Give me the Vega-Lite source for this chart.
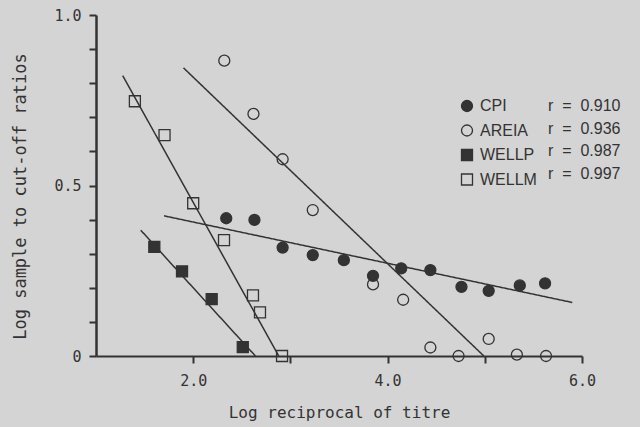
{
  "$schema": "https://vega.github.io/schema/vega-lite/v6.json",
  "width": 486,
  "height": 341,
  "autosize": {"type": "none"},
  "padding": {"left": 96, "top": 15, "right": 58, "bottom": 71},
  "background": "#d4d4d4",
  "config": {
    "view": {"stroke": null},
    "axis": {
      "grid": false,
      "domainColor": "#333333",
      "tickColor": "#333333",
      "labelColor": "#333333",
      "titleColor": "#333333",
      "labelFont": "DejaVu Sans Mono",
      "titleFont": "DejaVu Sans Mono",
      "labelFontSize": 15,
      "titleFontSize": 16,
      "titleFontWeight": "normal"
    },
    "legend": {
      "title": null,
      "orient": "none",
      "labelFont": "Liberation Sans",
      "labelFontSize": 16,
      "labelColor": "#333333",
      "rowPadding": 6.5,
      "padding": 0
    }
  },
  "datasets": {
    "points": [
      {"series": "CPI", "x": 2.34, "y": 0.404},
      {"series": "CPI", "x": 2.63, "y": 0.399},
      {"series": "CPI", "x": 2.92, "y": 0.318},
      {"series": "CPI", "x": 3.23, "y": 0.296},
      {"series": "CPI", "x": 3.55, "y": 0.281},
      {"series": "CPI", "x": 3.85, "y": 0.235},
      {"series": "CPI", "x": 4.14, "y": 0.257},
      {"series": "CPI", "x": 4.44, "y": 0.252},
      {"series": "CPI", "x": 4.76, "y": 0.203},
      {"series": "CPI", "x": 5.04, "y": 0.191},
      {"series": "CPI", "x": 5.36, "y": 0.207},
      {"series": "CPI", "x": 5.62, "y": 0.213},
      {"series": "AREIA", "x": 2.32, "y": 0.866},
      {"series": "AREIA", "x": 2.62, "y": 0.71},
      {"series": "AREIA", "x": 2.92, "y": 0.577},
      {"series": "AREIA", "x": 3.23, "y": 0.428},
      {"series": "AREIA", "x": 3.85, "y": 0.21},
      {"series": "AREIA", "x": 4.16, "y": 0.165},
      {"series": "AREIA", "x": 4.44, "y": 0.025},
      {"series": "AREIA", "x": 4.73, "y": 0},
      {"series": "AREIA", "x": 5.04, "y": 0.05},
      {"series": "AREIA", "x": 5.33, "y": 0.004},
      {"series": "AREIA", "x": 5.63, "y": 0},
      {"series": "WELLP", "x": 1.6, "y": 0.32},
      {"series": "WELLP", "x": 1.885, "y": 0.248},
      {"series": "WELLP", "x": 2.19, "y": 0.167},
      {"series": "WELLP", "x": 2.51, "y": 0.026},
      {"series": "WELLM", "x": 1.4, "y": 0.747},
      {"series": "WELLM", "x": 1.705, "y": 0.648},
      {"series": "WELLM", "x": 2.0, "y": 0.448},
      {"series": "WELLM", "x": 2.317, "y": 0.34},
      {"series": "WELLM", "x": 2.615, "y": 0.178},
      {"series": "WELLM", "x": 2.687, "y": 0.128},
      {"series": "WELLM", "x": 2.914, "y": 0}
    ],
    "fits": [
      {"series": "CPI", "r": "r \u00a0=\u00a0 0.910", "x": 1.7, "y": 0.411},
      {"series": "CPI", "r": "r \u00a0=\u00a0 0.910", "x": 5.9, "y": 0.157},
      {"series": "AREIA", "r": "r \u00a0=\u00a0 0.936", "x": 1.9, "y": 0.845},
      {"series": "AREIA", "r": "r \u00a0=\u00a0 0.936", "x": 4.99, "y": 0},
      {"series": "WELLP", "r": "r \u00a0=\u00a0 0.987", "x": 1.46, "y": 0.369},
      {"series": "WELLP", "r": "r \u00a0=\u00a0 0.987", "x": 2.64, "y": 0},
      {"series": "WELLM", "r": "r \u00a0=\u00a0 0.997", "x": 1.275, "y": 0.822},
      {"series": "WELLM", "r": "r \u00a0=\u00a0 0.997", "x": 2.88, "y": 0}
    ]
  },
  "encoding": {
    "x": {
      "field": "x", "type": "quantitative",
      "scale": {"domain": [1, 6], "nice": false, "zero": false},
      "axis": {
        "title": "Log reciprocal of titre",
        "values": [2, 3, 4, 5, 6],
        "labelExpr": "datum.value % 2 == 0 ? format(datum.value, '.1f') : ''",
        "tickSize": 7, "tickWidth": 2, "domainWidth": 2,
        "labelPadding": 10, "labelFlush": false,
        "titleBaseline": "middle", "titleY": 56
      }
    },
    "y": {
      "field": "y", "type": "quantitative",
      "scale": {"domain": [0, 1], "nice": false},
      "axis": {
        "title": "Log sample to cut-off ratios",
        "titleFontSize": 17,
        "values": [0, 0.1, 0.2, 0.3, 0.4, 0.5, 0.6, 0.7, 0.8, 0.9, 1],
        "labelExpr": "datum.value == 0 ? '0' : (abs(datum.value - 0.5) < 0.001 || abs(datum.value - 1) < 0.001) ? format(datum.value, '.1f') : ''",
        "labelOverlap": false,
        "tickSize": 7, "tickWidth": 2, "domainWidth": 2.5,
        "labelPadding": 8, "labelFlush": false,
        "titleBaseline": "middle", "titleX": -76, "titleY": 181
      }
    }
  },
  "layer": [
    {
      "data": {"name": "fits"},
      "mark": {"type": "line", "color": "#333333", "strokeWidth": 1.5},
      "encoding": {
        "detail": {"field": "series"},
        "strokeDash": {
          "field": "r", "type": "nominal",
          "scale": {"domain": ["r \u00a0=\u00a0 0.910", "r \u00a0=\u00a0 0.936", "r \u00a0=\u00a0 0.987", "r \u00a0=\u00a0 0.997"], "range": [[1, 0], [1, 0], [1, 0], [1, 0]]},
          "legend": {
            "legendX": 436, "legendY": 83,
            "symbolSize": 0, "symbolStrokeWidth": 0, "symbolOpacity": 0,
            "labelOffset": 0
          }
        }
      }
    },
    {
      "data": {"name": "points"},
      "mark": {"type": "point", "filled": true, "stroke": "#333333", "strokeWidth": 1.3, "opacity": 1},
      "encoding": {
        "shape": {
          "field": "series", "type": "nominal",
          "scale": {"domain": ["CPI", "AREIA", "WELLP", "WELLM"], "range": ["circle", "circle", "square", "square"]},
          "legend": {
            "legendX": 363, "legendY": 83, "labelOffset": 5, "symbolSize": 90,
            "symbolStrokeColor": "#333333", "symbolStrokeWidth": 1.3, "symbolOpacity": 1
          }
        },
        "fill": {
          "field": "series", "type": "nominal",
          "scale": {"domain": ["CPI", "AREIA", "WELLP", "WELLM"], "range": ["#333333", "transparent", "#333333", "transparent"]},
          "legend": {
            "legendX": 363, "legendY": 83, "labelOffset": 5, "symbolSize": 90,
            "symbolStrokeColor": "#333333", "symbolStrokeWidth": 1.3, "symbolOpacity": 1
          }
        },
        "stroke": {
          "field": "series", "type": "nominal",
          "scale": {"domain": ["CPI", "AREIA", "WELLP", "WELLM"], "range": ["#333333", "#333333", "#333333", "#333333"]},
          "legend": {
            "legendX": 363, "legendY": 83, "labelOffset": 5, "symbolSize": 90,
            "symbolStrokeColor": "#333333", "symbolStrokeWidth": 1.3, "symbolOpacity": 1
          }
        },
        "size": {
          "field": "series", "type": "nominal",
          "scale": {"domain": ["CPI", "AREIA", "WELLP", "WELLM"], "range": [121, 121, 72, 72]},
          "legend": {
            "legendX": 363, "legendY": 83, "labelOffset": 5, "symbolSize": 90,
            "symbolStrokeColor": "#333333", "symbolStrokeWidth": 1.3, "symbolOpacity": 1
          }
        }
      }
    }
  ]
}
